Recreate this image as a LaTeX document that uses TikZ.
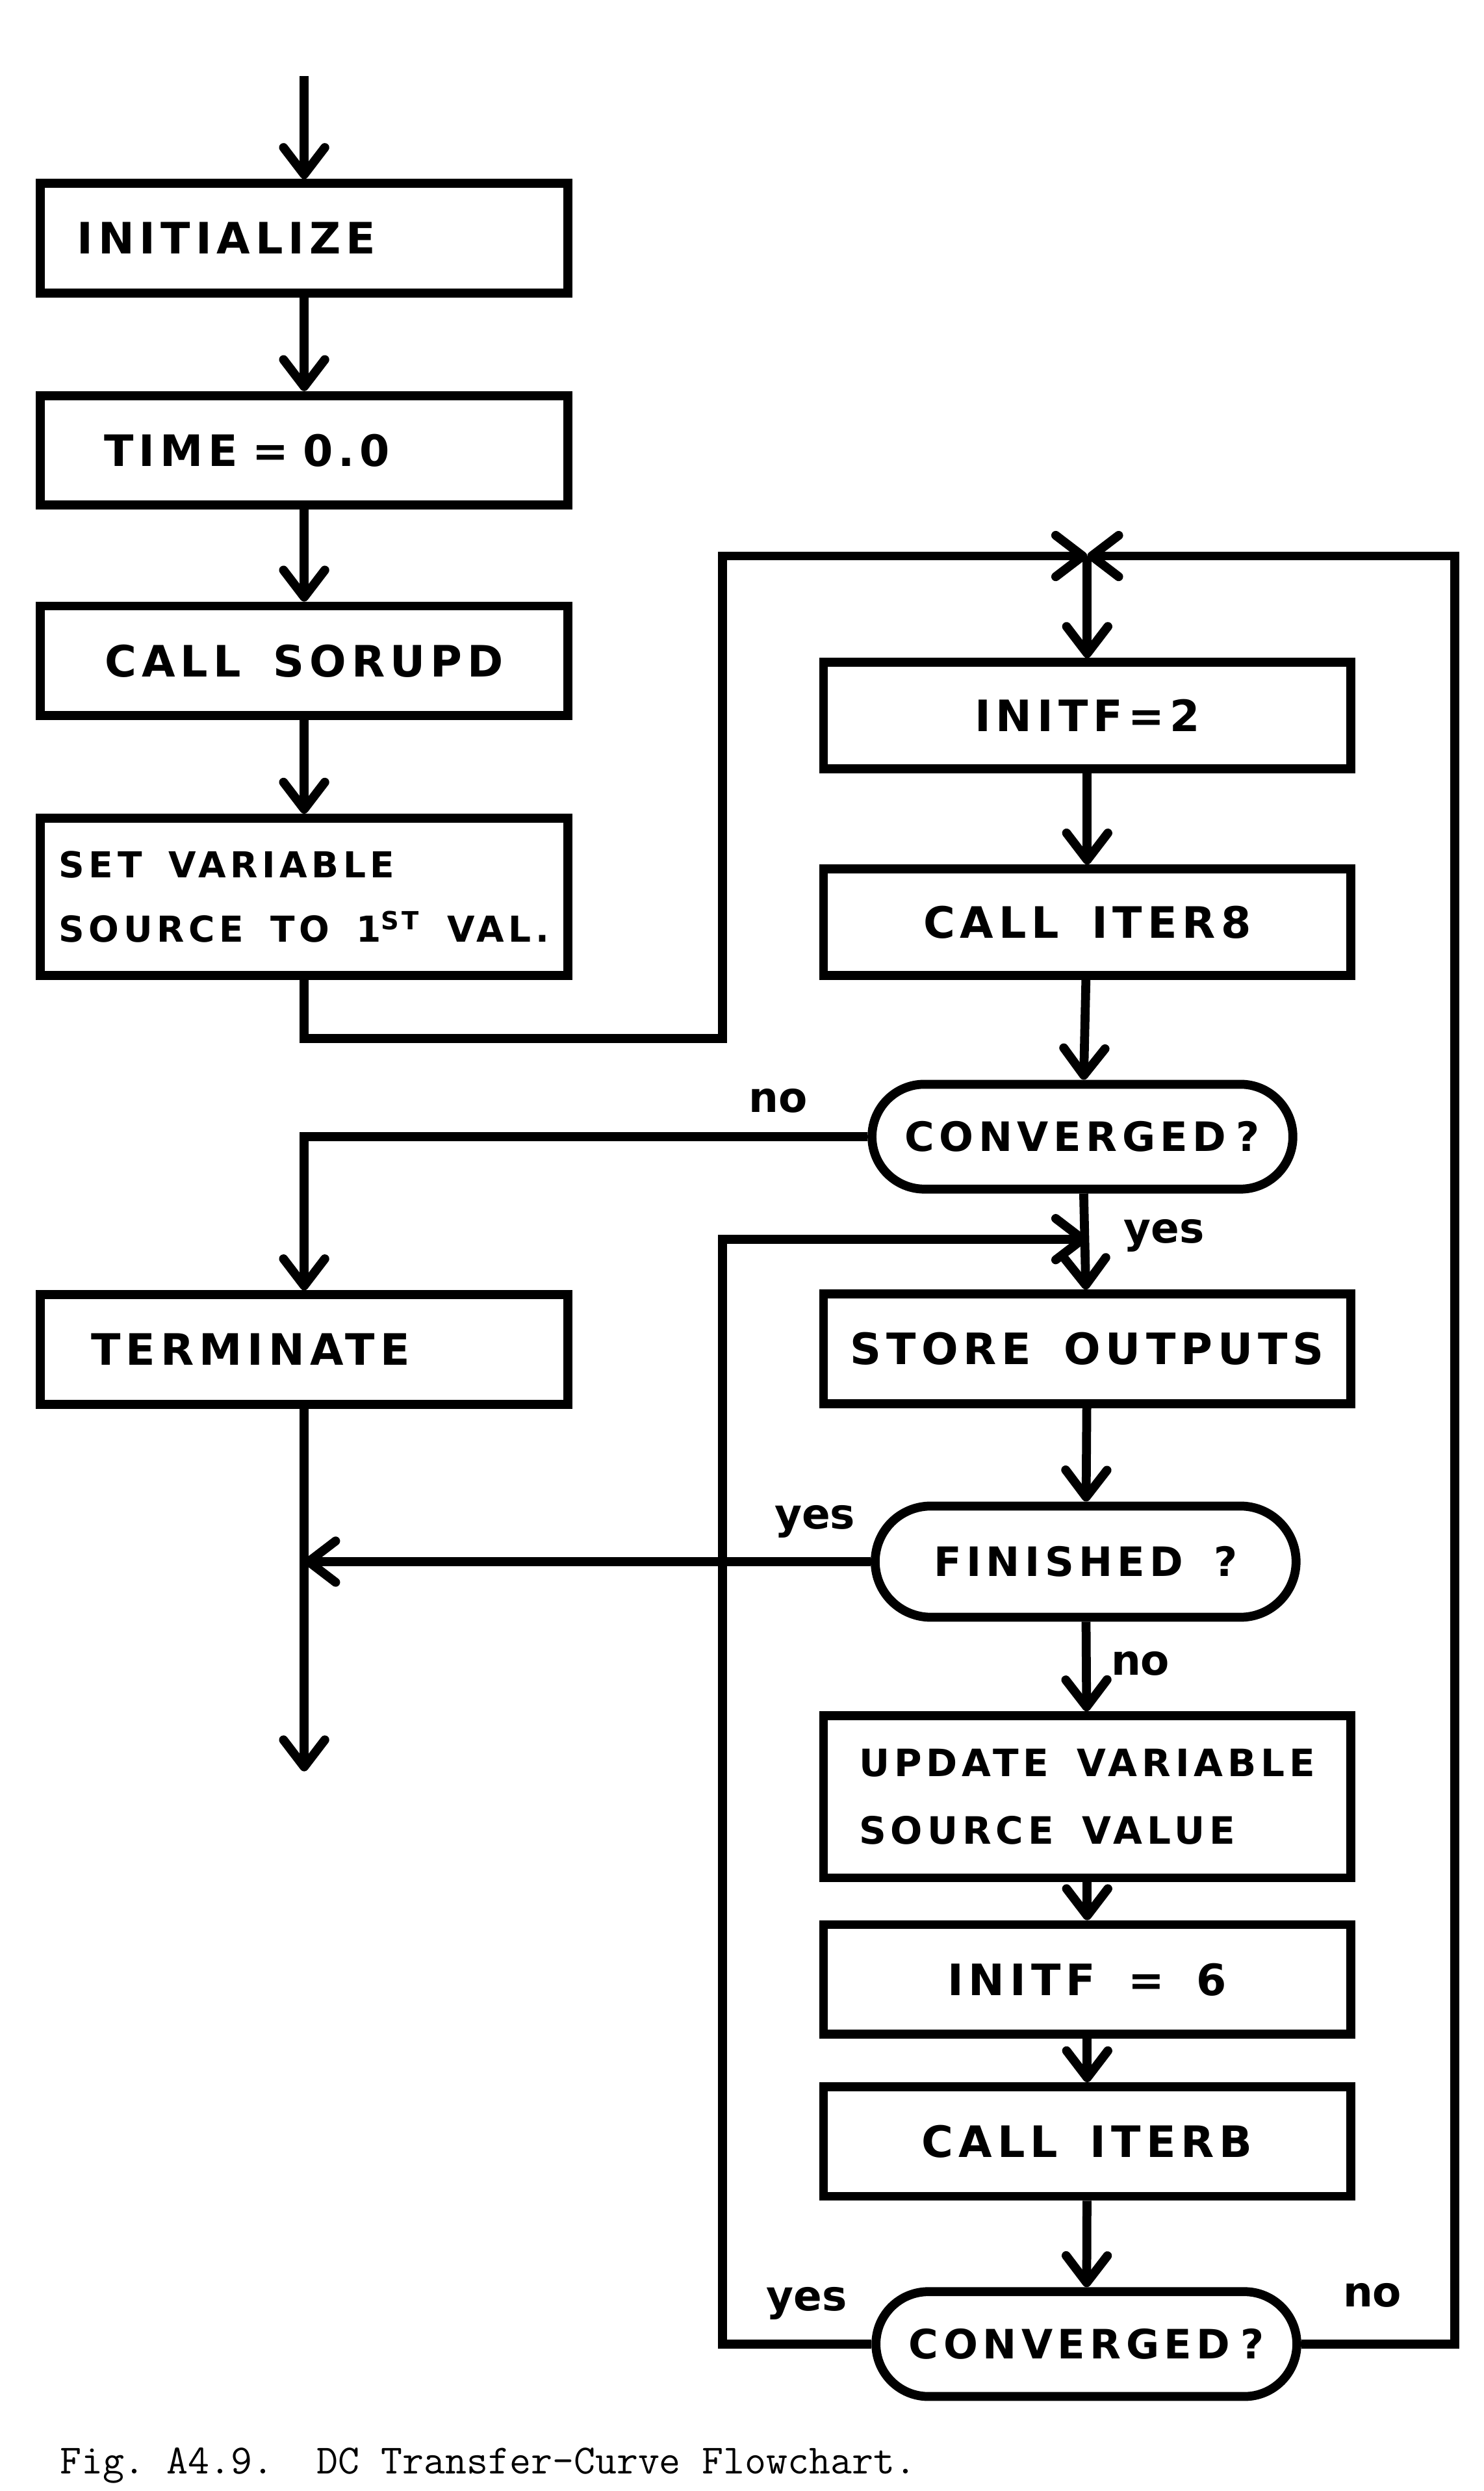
\documentclass[tikz,border=0pt]{standalone}
\usepackage{fontspec}
\newfontfamily\handfont[LetterSpace=12,WordSpace=1.6]{DejaVu Sans}
\newfontfamily\notefont{DejaVu Sans}
\usetikzlibrary{arrows.meta,shapes.misc}

\begin{document}
\begin{tikzpicture}[
    line width=3.2pt,
    box/.style={draw, minimum width=6.64cm, minimum height=1.38cm, inner sep=0pt,
      font=\handfont\bfseries\fontsize{15.5}{24}\selectfont},
    decision/.style={draw, rounded rectangle, minimum width=5.3cm, minimum height=1.32cm,
      inner sep=0pt, font=\handfont\bfseries\fontsize{14.5}{24}\selectfont},
    arr/.style={-{Straight Barb[length=3.4mm,width=5.2mm,round]}},
    note/.style={font=\notefont\bfseries\fontsize{15}{18}\selectfont}
  ]
     \useasboundingbox (0,0) rectangle (18.68,-31.36);

     % left column
     \node[box, text width=5.72cm] (init) at (3.83,-3.0) {INITIALIZE};
     \node[box, text width=5.04cm] (time) at (3.83,-5.67) {TIME = 0.0};
     \node[box] (sorupd) at (3.83,-8.32) {CALL SORUPD};
     \node[box, minimum height=1.98cm, align=left, font=\handfont\bfseries\fontsize{12.8}{23}\selectfont]
       (setvar) at (3.83,-11.29) {SET VARIABLE\\SOURCE TO 1\textsuperscript{ST} VAL.};
     \node[box, text width=5.36cm] (term) at (3.83,-16.99) {TERMINATE};

     % right column
     \node[box, minimum height=1.34cm] (initfa) at (13.69,-9.01) {INITF=2};
     \node[box, minimum height=1.34cm] (itera) at (13.69,-11.61) {CALL ITER8};
     \node[decision] (conva) at (13.63,-14.31) {CONVERGED\hspace{0.25em}?};
     \node[box] (store) at (13.69,-16.98) {STORE OUTPUTS};
     \node[decision, minimum height=1.4cm] (fin) at (13.67,-19.66) {FINISHED ?};
     \node[box, minimum height=2.04cm, align=left, font=\handfont\bfseries\fontsize{13.5}{24}\selectfont]
       (update) at (13.69,-22.62) {UPDATE VARIABLE\\SOURCE VALUE};
     \node[box] (initfb) at (13.69,-24.92) {INITF = 6};
     \node[box] (iterb) at (13.69,-26.96) {CALL ITERB};
     \node[decision] (convb) at (13.68,-29.51) {CONVERGED\hspace{0.25em}?};

     \coordinate (start) at (3.83,-0.96);
     \coordinate (top) at (13.69,-7.0);
     \coordinate (merge) at (13.69,-15.6);
     \coordinate (stop) at (3.83,-22.3);

     \draw[arr] (start) -- (init);
     \draw[arr] (init) -- (time);
     \draw[arr] (time) -- (sorupd);
     \draw[arr] (sorupd) -- (setvar);
     \draw[arr] (setvar.south) -- ++(0,-0.74) -| (9.10,-7.0) -- (top);
     \draw[arr] (convb.east) -| (18.32,-7.0) -- (top);
     \draw[arr] (top) -- (initfa);
     \draw[arr] (initfa) -- (itera);
     \draw[arr] (itera) -- (conva);
     \draw[arr] (conva.west) -| (term);
     \draw[arr] (conva) -- (store);
     \draw[arr] (convb.west) -| (9.10,-15.6) -- (merge);
     \draw[arr] (store) -- (fin);
     \draw[arr] (fin.west) -- (fin.west -| term.south);
     \draw[arr] (term) -- (stop);
     \draw[arr] (fin) -- (update);
     \draw[arr] (update) -- (initfb);
     \draw[arr] (initfb) -- (iterb);
     \draw[arr] (iterb) -- (convb);

     \node[note] (noa) at (9.8,-13.86) {no};
     \node[note] (yesa) at (14.66,-15.56) {yes};
     \node[note] (yesb) at (10.26,-19.16) {yes};
     \node[note] (nob) at (14.36,-20.94) {no};
     \node[note] (yesc) at (10.16,-29.0) {yes};
     \node[note] (noc) at (17.28,-28.9) {no};

     \node[anchor=base west, font=\ttfamily\fontsize{14.9}{17}\selectfont] (caption)
       at (0.58,-31.14) {Fig.\ A4.9.\ \ DC Transfer-Curve Flowchart.};
\end{tikzpicture}
\end{document}
